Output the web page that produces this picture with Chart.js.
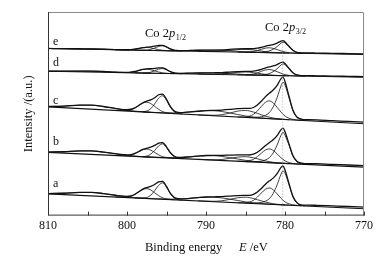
<!DOCTYPE html>
<html>
<head>
<meta charset="utf-8">
<script src="https://cdn.jsdelivr.net/npm/chart.js@4.4.1/dist/chart.umd.min.js"></script>
<style>
  html, body { margin: 0; padding: 0; background: #fff; }
  #chart { display: block; }
</style>
</head>
<body>
<canvas id="chart" width="391" height="261"></canvas>
<script>
// binding energy (eV) grids
var E_FIT   = [810, 808, 806, 804.5, 803, 801.5, 800, 799.5, 799, 798.5, 798, 797.5, 797, 796.5, 796, 795.5, 795, 794.5, 794, 793.5, 793, 792, 791, 790, 789, 788, 787, 786, 785, 784.5, 784, 783.5, 783, 782.5, 782, 781.5, 781, 780.5, 780.25, 780, 779.5, 779, 778.5, 778, 777.5, 777, 776, 774, 772, 770];
var E_BG    = [810, 770];
var E_P32   = [785, 784, 783.5, 783, 782.5, 782, 781.5, 781, 780.5, 780.25, 780, 779.5, 779, 778.5, 778, 777.5];
var E_S32   = [786, 785, 784.5, 784, 783.5, 783, 782.5, 782, 781.5, 781, 780.5, 780, 779.5, 779, 778.5, 778];
var E_SATA  = [791, 790, 789, 788, 787, 786, 785, 784.5, 784, 783.5, 783, 782.5, 782, 781.5, 781, 780.5, 780, 779.5];
var E_SATB  = [798, 797, 796, 795, 794, 793, 792, 791, 790, 789, 788, 787, 786, 785, 784, 783, 782, 781, 780];
var E_P12   = [799, 798.5, 798, 797.5, 797, 796.5, 796, 795.5, 795, 794.5, 794, 793.5, 793];
var E_S12   = [801.5, 800, 799.5, 799, 798.5, 798, 797.5, 797, 796.5, 796, 795.5, 795, 794.5, 794];
var E_SAT12 = [810, 808, 806, 804.5, 803, 801.5, 800, 799, 798, 797];

// sample a
var a_fit = [22.3, 22.6, 23.4, 23.4, 22.3, 20.6, 19.5, 20.0, 21.6, 24.2, 26.8, 28.4, 29.6, 31.5, 34.1, 34.7, 29.5, 22.5, 18.3, 17.1, 16.9, 17.5, 18.2, 18.8, 19.0, 19.2, 19.7, 20.3, 20.4, 20.5, 21.5, 23.9, 27.4, 31.5, 34.9, 37.9, 42.4, 48.8, 50.2, 46.1, 32.6, 19.5, 13.1, 10.9, 10.6, 10.6, 10.4, 9.8, 9.2, 8.5];
var a_bg = [22, 7];
var a_p32 = [12.6, 12.6, 12.8, 13.3, 14.5, 17.0, 22.4, 31.1, 42.0, 45.3, 42.8, 31.3, 19.0, 13.0, 10.7, 9.8];
var a_s32 = [13.0, 13.1, 13.8, 15.4, 18.7, 22.8, 26.5, 28.0, 26.2, 22.0, 17.5, 13.9, 11.9, 10.9, 10.4, 10.0];
var a_sata = [14.9, 14.6, 14.5, 15.0, 16.4, 18.0, 18.6, 18.2, 17.3, 16.1, 14.9, 13.7, 12.8, 12.0, 11.5, 11.1, 10.8, 10.6];
var a_satb = [17.5, 17.2, 16.9, 16.7, 16.7, 16.9, 17.5, 18.2, 18.7, 18.6, 17.9, 16.7, 15.3, 13.9, 12.9, 12.2, 11.6, 11.2, 10.8];
var a_p12 = [17.9, 17.8, 17.8, 18.3, 20.6, 25.2, 30.6, 33.1, 28.8, 22.0, 17.7, 16.1, 15.6];
var a_s12 = [18.8, 18.8, 19.5, 21.3, 23.9, 26.4, 27.3, 26.0, 23.1, 20.2, 18.0, 16.9, 16.3, 16.0];
var a_sat12 = [22.3, 22.6, 23.4, 23.4, 22.3, 20.6, 19.0, 18.2, 17.6, 17.2];

// sample b
var b_fit = [64.3, 64.6, 65.4, 65.4, 64.3, 62.6, 61.4, 61.7, 62.9, 64.9, 67.0, 68.2, 69.3, 71.0, 73.3, 73.9, 69.6, 63.6, 60.1, 59.0, 58.9, 59.5, 60.2, 60.8, 61.0, 61.0, 61.2, 61.4, 61.4, 61.3, 62.1, 64.1, 67.2, 70.7, 73.7, 76.7, 81.0, 87.0, 88.5, 84.8, 72.6, 60.7, 54.9, 53.3, 52.6, 52.6, 52.5, 51.8, 51.2, 50.5];
var b_bg = [64, 49];
var b_p32 = [54.6, 54.6, 54.7, 55.1, 56.2, 58.5, 63.4, 71.4, 81.3, 84.3, 81.1, 71.5, 60.3, 54.7, 52.6, 51.8];
var b_s32 = [55.0, 55.1, 55.6, 56.9, 59.7, 63.1, 66.3, 67.5, 65.9, 62.4, 58.5, 55.4, 53.7, 52.8, 52.3, 52.0];
var b_sata = [56.9, 56.6, 56.4, 56.8, 57.9, 59.2, 59.6, 59.2, 58.5, 57.5, 56.4, 55.4, 54.6, 53.9, 53.4, 53.1, 52.8, 52.6];
var b_satb = [59.5, 59.2, 58.9, 58.7, 58.7, 58.9, 59.5, 60.2, 60.7, 60.6, 59.9, 58.7, 57.3, 55.9, 54.9, 54.2, 53.6, 53.2, 52.8];
var b_p12 = [59.9, 59.8, 59.7, 60.2, 62.1, 65.9, 70.5, 72.6, 68.9, 63.1, 59.4, 58.1, 57.6];
var b_s12 = [60.8, 60.7, 61.2, 62.6, 64.7, 66.6, 67.3, 66.2, 63.9, 61.5, 59.7, 58.8, 58.3, 58.0];
var b_sat12 = [64.3, 64.6, 65.4, 65.4, 64.3, 62.6, 61.0, 60.2, 59.6, 59.2];

// sample c
var c_fit = [110.4, 110.7, 111.7, 111.7, 110.4, 108.4, 107.1, 107.6, 109.1, 111.7, 114.2, 115.8, 117.1, 119.3, 122.3, 123.0, 117.6, 110.2, 105.7, 104.4, 104.2, 104.9, 105.6, 106.3, 106.5, 106.8, 107.4, 108.2, 108.4, 108.4, 109.4, 112.0, 115.7, 120.1, 123.7, 127.0, 131.8, 138.6, 140.2, 135.7, 121.0, 106.8, 99.8, 97.9, 97.0, 97.0, 96.8, 96.0, 95.3, 94.5];
var c_bg = [110, 93];
var c_p32 = [99.4, 99.3, 99.5, 100.0, 101.3, 104.1, 109.9, 119.4, 131.2, 134.9, 132.1, 119.5, 106.2, 99.6, 97.2, 96.2];
var c_s32 = [99.8, 99.9, 100.6, 102.4, 105.9, 110.4, 114.5, 116.1, 114.1, 109.6, 104.7, 100.7, 98.5, 97.4, 96.8, 96.4];
var c_sata = [101.9, 101.6, 101.5, 102.1, 103.7, 105.7, 106.4, 105.9, 104.8, 103.5, 102.0, 100.7, 99.6, 98.7, 98.1, 97.7, 97.3, 97.0];
var c_satb = [104.9, 104.5, 104.2, 103.9, 103.9, 104.2, 104.9, 105.6, 106.2, 106.1, 105.3, 103.9, 102.3, 100.8, 99.7, 98.8, 98.2, 97.7, 97.3];
var c_p12 = [105.3, 105.2, 105.2, 105.7, 108.2, 113.0, 118.8, 121.3, 116.8, 109.5, 105.0, 103.3, 102.8];
var c_s12 = [106.4, 106.3, 107.0, 108.7, 111.3, 113.8, 114.7, 113.4, 110.5, 107.5, 105.3, 104.1, 103.5, 103.2];
var c_sat12 = [110.4, 110.7, 111.7, 111.7, 110.4, 108.4, 106.6, 105.7, 105.1, 104.5];

// sample d
var d_fit = [146.1, 146.1, 146.2, 146.2, 145.8, 145.2, 144.9, 145.2, 145.8, 146.9, 147.9, 148.5, 148.7, 149.0, 149.5, 149.5, 147.8, 145.6, 144.3, 144.0, 143.9, 144.1, 144.3, 144.4, 144.5, 144.7, 145.2, 145.7, 145.9, 145.9, 146.1, 146.9, 148.0, 149.3, 150.4, 151.4, 152.8, 154.9, 155.3, 153.8, 149.1, 144.5, 142.3, 141.7, 141.5, 141.6, 141.4, 141.2, 140.9, 140.6];
var d_bg = [146, 140];
var d_p32 = [142.3, 142.2, 142.3, 142.4, 142.8, 143.7, 145.6, 148.6, 152.4, 153.5, 152.7, 148.6, 144.4, 142.2, 141.4, 141.1];
var d_s32 = [142.4, 142.4, 142.7, 143.2, 144.4, 145.9, 147.3, 147.8, 147.1, 145.6, 144.0, 142.6, 141.9, 141.5, 141.3, 141.2];
var d_sata = [143.2, 143.0, 143.0, 143.3, 144.1, 144.9, 145.3, 145.1, 144.6, 144.1, 143.5, 142.9, 142.4, 142.1, 141.8, 141.7, 141.5, 141.4];
var d_satb = [144.2, 144.1, 143.9, 143.8, 143.8, 143.9, 144.1, 144.3, 144.4, 144.4, 144.1, 143.7, 143.2, 142.7, 142.3, 142.0, 141.8, 141.7, 141.5];
var d_p12 = [144.4, 144.3, 144.3, 144.4, 145.1, 146.5, 148.1, 148.8, 147.5, 145.4, 144.1, 143.6, 143.5];
var d_s12 = [144.7, 144.7, 145.0, 145.7, 146.8, 147.8, 148.1, 147.6, 146.5, 145.3, 144.4, 144.0, 143.7, 143.6];
var d_sat12 = [146.1, 146.1, 146.2, 146.2, 145.8, 145.2, 144.7, 144.5, 144.2, 144.1];

// sample e
var e_fit = [169.1, 168.9, 168.8, 168.7, 168.4, 168.0, 167.8, 167.9, 168.4, 169.2, 170.0, 170.4, 170.8, 171.4, 172.2, 172.3, 170.7, 168.6, 167.3, 167.0, 166.9, 167.1, 167.3, 167.4, 167.5, 167.7, 168.2, 168.7, 168.8, 168.8, 168.9, 169.4, 170.3, 171.3, 172.2, 173.1, 174.5, 176.6, 177.1, 175.7, 171.4, 167.3, 165.2, 164.7, 164.5, 164.6, 164.4, 164.2, 163.9, 163.6];
var e_bg = [169, 163];
var e_p32 = [165.3, 165.2, 165.3, 165.4, 165.8, 166.6, 168.3, 171.0, 174.5, 175.5, 174.7, 171.0, 167.1, 165.2, 164.4, 164.1];
var e_s32 = [165.4, 165.4, 165.6, 166.1, 167.0, 168.3, 169.4, 169.8, 169.2, 168.0, 166.6, 165.5, 164.8, 164.5, 164.3, 164.2];
var e_sata = [166.2, 166.0, 166.0, 166.3, 167.1, 167.9, 168.3, 168.1, 167.6, 167.1, 166.5, 165.9, 165.4, 165.1, 164.8, 164.7, 164.5, 164.4];
var e_satb = [167.2, 167.1, 166.9, 166.8, 166.8, 166.9, 167.1, 167.3, 167.4, 167.4, 167.1, 166.7, 166.2, 165.7, 165.3, 165.0, 164.8, 164.7, 164.5];
var e_p12 = [167.4, 167.3, 167.3, 167.4, 168.1, 169.5, 171.1, 171.8, 170.5, 168.4, 167.1, 166.6, 166.5];
var e_s12 = [167.7, 167.7, 167.9, 168.4, 169.1, 169.9, 170.1, 169.7, 168.8, 167.9, 167.3, 166.9, 166.7, 166.6];
var e_sat12 = [169.1, 168.9, 168.8, 168.7, 168.4, 168.0, 167.6, 167.4, 167.2, 167.1];

var SAMPLE_NAMES = ['a', 'b', 'c', 'd', 'e'];
var GUIDE_E = [780.3, 780.3];
var GUIDE_Y = [0, 176];
var TICK_E = [810, 805, 800, 795, 790, 785, 780, 775, 770];

function pts(E, Y) {
    return E.map(function (x, i) { return { x: x, y: Y[i] }; });
}
function curve(E, Y, w) {
    return {
        data: pts(E, Y),
        borderColor: '#111',
        borderWidth: w,
        pointRadius: 0,
        fill: false,
        cubicInterpolationMode: 'monotone'
    };
}

var samples = [
    [a_bg, a_sat12, a_s12, a_p12, a_satb, a_sata, a_s32, a_p32, a_fit],
    [b_bg, b_sat12, b_s12, b_p12, b_satb, b_sata, b_s32, b_p32, b_fit],
    [c_bg, c_sat12, c_s12, c_p12, c_satb, c_sata, c_s32, c_p32, c_fit],
    [d_bg, d_sat12, d_s12, d_p12, d_satb, d_sata, d_s32, d_p32, d_fit],
    [e_bg, e_sat12, e_s12, e_p12, e_satb, e_sata, e_s32, e_p32, e_fit]
];
var grids = [E_BG, E_SAT12, E_S12, E_P12, E_SATB, E_SATA, E_S32, E_P32, E_FIT];

var datasets = [{
    data: pts(GUIDE_E, GUIDE_Y),
    borderColor: '#9a9a9a',
    borderWidth: 0.8,
    borderDash: [1, 2],
    pointRadius: 0,
    tension: 0
}];
samples.forEach(function (s) {
    s.forEach(function (Y, k) {
        var ds = curve(grids[k], Y, k === 8 ? 1.3 : (k === 0 ? 1.1 : 0.8));
        if (k === 0) { ds.cubicInterpolationMode = 'default'; ds.tension = 0; }
        datasets.push(ds);
    });
});

var serif = 'Liberation Serif, Times New Roman, serif';

var chart = new Chart(document.getElementById('chart'), {
    type: 'line',
    data: { datasets: datasets },
    options: {
        animation: false,
        responsive: false,
        devicePixelRatio: 1,
        layout: { padding: { left: 17, right: 27, top: 12, bottom: 25 } },
        plugins: { legend: { display: false }, tooltip: { enabled: false } },
        scales: {
            x: {
                type: 'linear',
                reverse: true,
                min: 770,
                max: 810,
                grid: { display: false, drawTicks: false },
                border: { display: false },
                ticks: {
                    stepSize: 10,
                    padding: 3,
                    maxRotation: 0,
                    autoSkip: false,
                    color: '#111',
                    font: { family: serif, size: 12 }
                }
            },
            y: {
                min: 0,
                max: 206,
                grid: { display: false, drawTicks: false },
                border: { display: false },
                ticks: { display: false },
                title: {
                    display: true,
                    text: 'Intensity /(a.u.)',
                    color: '#111',
                    font: { family: serif, size: 12.5 },
                    padding: { top: 4, bottom: 12 }
                }
            }
        }
    },
    plugins: [{
        id: 'decor',
        beforeDraw: function (chart) {
            var ctx = chart.ctx;
            ctx.save();
            ctx.fillStyle = '#fff';
            ctx.fillRect(0, 0, chart.width, chart.height);
            ctx.restore();
        },
        afterDraw: function (chart) {
            var ctx = chart.ctx, area = chart.chartArea;
            var xs = chart.scales.x, ys = chart.scales.y;
            ctx.save();
            // frame
            ctx.strokeStyle = '#8a8a8a';
            ctx.lineWidth = 1;
            ctx.beginPath();
            ctx.moveTo(area.left, area.top + 0.5);
            ctx.lineTo(area.right - 0.5, area.top + 0.5);
            ctx.lineTo(area.right - 0.5, area.bottom);
            ctx.stroke();
            ctx.strokeStyle = '#333';
            ctx.beginPath();
            ctx.moveTo(area.left + 0.5, area.top);
            ctx.lineTo(area.left + 0.5, area.bottom - 0.5);
            ctx.lineTo(area.right, area.bottom - 0.5);
            ctx.stroke();
            // inward ticks
            TICK_E.forEach(function (v) {
                var px = Math.round(xs.getPixelForValue(v)) + 0.5;
                ctx.beginPath();
                ctx.moveTo(px, area.bottom);
                ctx.lineTo(px, area.bottom - 4);
                ctx.stroke();
            });
            ctx.fillStyle = '#111';
            ctx.textBaseline = 'alphabetic';
            ctx.textAlign = 'left';
            // sample letters
            var letterY = [29, 71.5, 113, 151, 172.5];
            ctx.font = '12px ' + serif;
            SAMPLE_NAMES.forEach(function (n, i) {
                ctx.fillText(n, area.left + 5, ys.getPixelForValue(letterY[i]));
            });
            // peak labels
            function peakLabel(x, y, sub) {
                ctx.font = '12.5px ' + serif;
                ctx.fillText('Co 2', x, y);
                x += ctx.measureText('Co 2').width;
                ctx.font = 'italic 12.5px ' + serif;
                ctx.fillText('p', x, y);
                x += ctx.measureText('p').width + 0.5;
                ctx.font = '8px ' + serif;
                ctx.fillText(sub, x, y + 3);
            }
            peakLabel(145, 37, '1/2');
            peakLabel(265, 31, '3/2');
            // x axis title
            ctx.font = '12.5px ' + serif;
            ctx.fillText('Binding energy', 145, 251);
            ctx.font = 'italic 12.5px ' + serif;
            ctx.fillText('E', 239, 251);
            var w = ctx.measureText('E').width;
            ctx.font = '12.5px ' + serif;
            ctx.fillText(' /eV', 239 + w, 251);
            ctx.restore();
        }
    }]
});
</script>
</body>
</html>
